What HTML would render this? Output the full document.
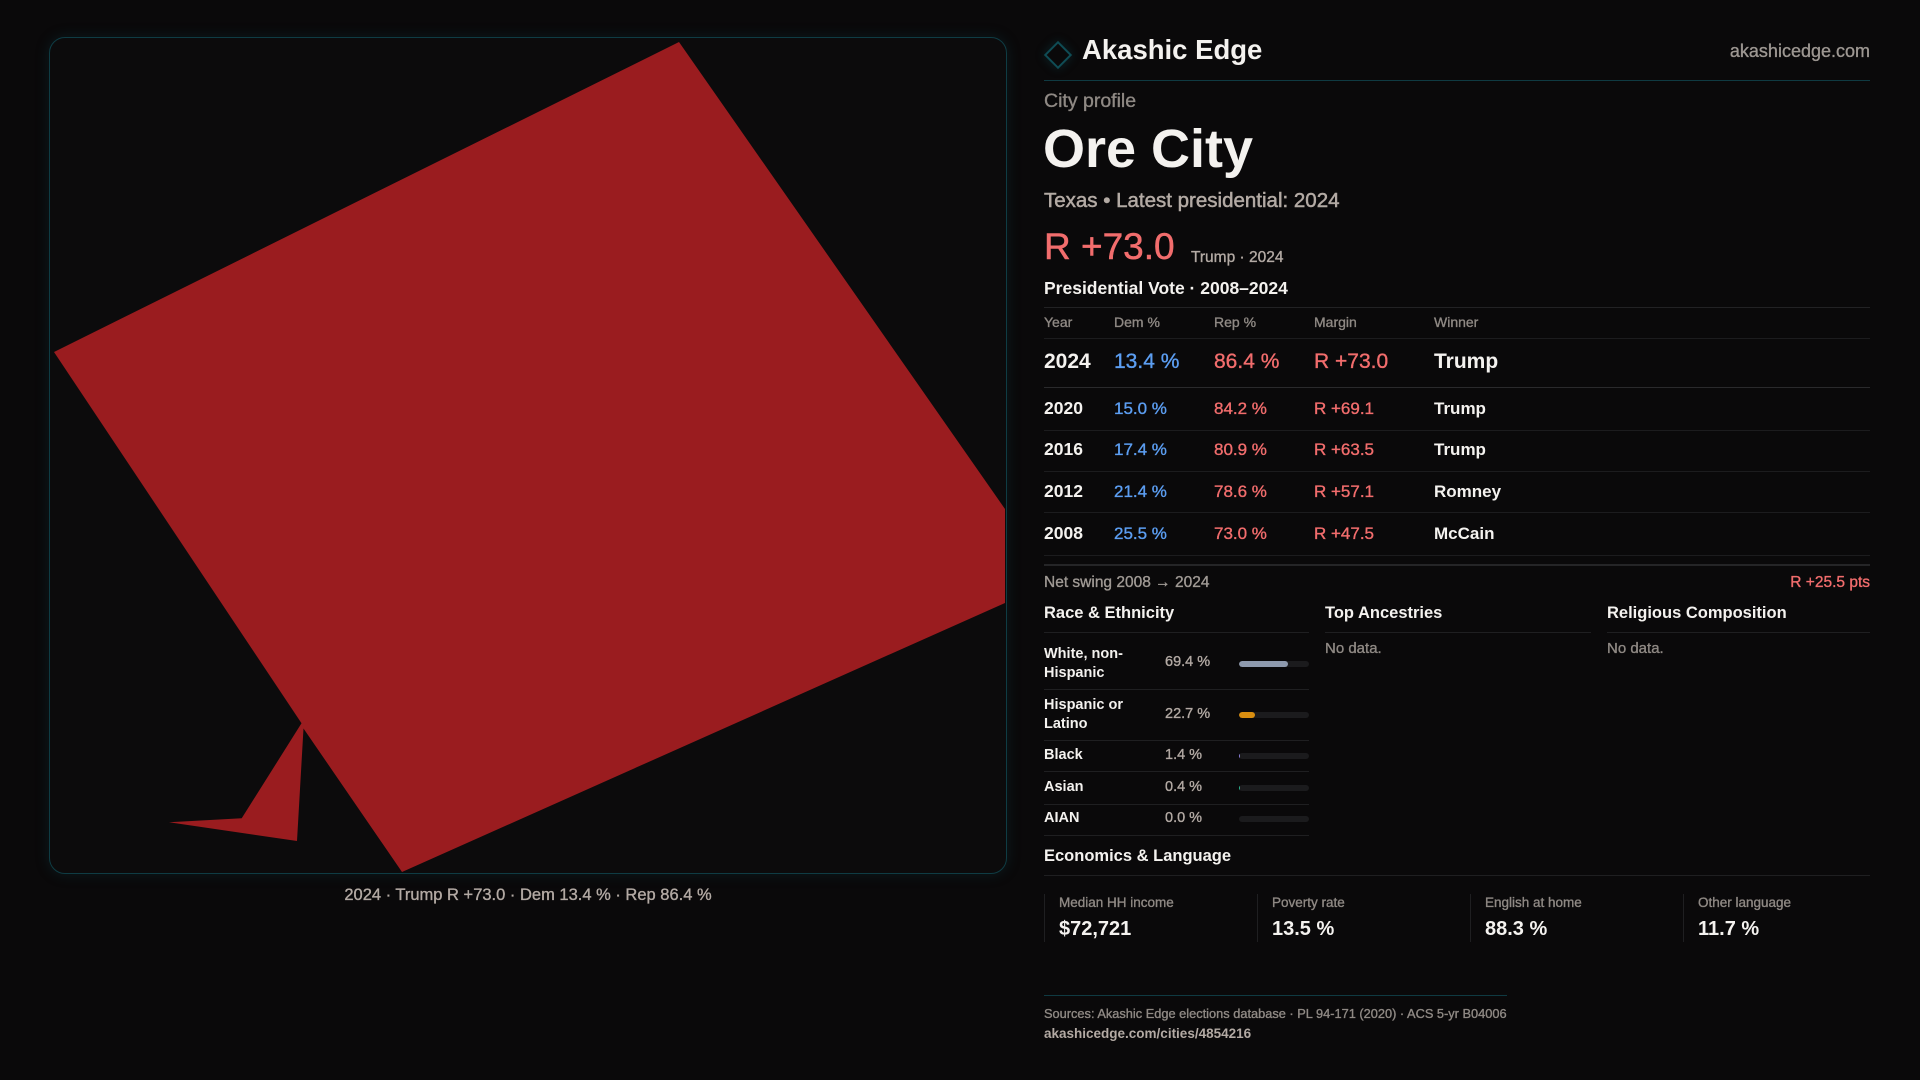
<!DOCTYPE html>
<html>
<head>
<meta charset="utf-8">
<style>
  html,body{margin:0;padding:0;}
  body{width:1920px;height:1080px;background:#0a090a;overflow:hidden;position:relative;font-family:"Liberation Sans",sans-serif;}
  .t{position:absolute;white-space:nowrap;line-height:1;}
  .b{font-weight:bold;}
  .m{-webkit-text-stroke:0.35px currentColor;}
  .m2{-webkit-text-stroke:0.5px currentColor;}
  .w{color:#f4f2ef;}
  .g{color:#8f8984;}
  .g2{color:#b3aaa4;}
  .red{color:#f26d6d;}
  .blue{color:#5c9ef2;}
  .hl{position:absolute;height:1px;}
  .vl{position:absolute;width:1px;background:#1f1f21;}
  .track{position:absolute;left:1239px;width:70px;height:6px;border-radius:3px;background:#1b1b1d;overflow:hidden;}
  .fill{position:absolute;left:0;top:0;height:6px;border-radius:3px;}
</style>
</head>
<body>

<!-- Map panel -->
<div style="position:absolute;left:49px;top:37px;width:956px;height:835px;border:1px solid #0f3c44;border-radius:16px;background:#0c0b0c;box-shadow:0 0 14px rgba(16,80,90,0.25);"></div>
<svg style="position:absolute;left:0;top:0;" width="1920" height="1080" viewBox="0 0 1920 1080">
  <polygon fill="#9a1c1f" points="679,42 1005,509 1005,603 402,872 303.5,728.5 297,841 169,822.3 241.7,818.3 301.5,723.3 54,352"/>
</svg>
<div class="t g2 m" style="left:0;width:1056px;text-align:center;top:887px;font-size:16.5px;">2024 · Trump R +73.0 · Dem 13.4 % · Rep 86.4 %</div>

<!-- Header -->
<div style="position:absolute;left:1048px;top:45px;width:20px;height:20px;box-sizing:border-box;border:2px solid #0f4c55;transform:rotate(45deg);box-shadow:0 0 10px rgba(15,90,100,0.35);"></div>
<div class="t b w" style="left:1082px;top:36px;font-size:27.5px;">Akashic Edge</div>
<div class="t m" style="right:50px;top:42px;font-size:18px;color:#9d9792;">akashicedge.com</div>
<div class="hl" style="left:1044px;top:80px;width:826px;background:#0f3a42;"></div>

<div class="t g m" style="left:1044px;top:92px;font-size:19.5px;">City profile</div>
<div class="t b w" style="left:1043px;top:122px;font-size:54px;">Ore City</div>
<div class="t g2 m2" style="left:1044px;top:191px;font-size:20.5px;">Texas • Latest presidential: 2024</div>
<div class="t red m2" style="left:1044px;top:228px;font-size:37px;">R +73.0</div>
<div class="t g2 m" style="left:1191px;top:250px;font-size:15.5px;">Trump · 2024</div>
<div class="t b w" style="left:1044px;top:280px;font-size:17.5px;">Presidential Vote · 2008–2024</div>

<!-- Table -->
<div class="hl" style="left:1044px;top:307px;width:826px;background:#222224;"></div>
<div class="t g m" style="left:1044px;top:315px;font-size:14px;">Year</div>
<div class="t g m" style="left:1114px;top:315px;font-size:14px;">Dem %</div>
<div class="t g m" style="left:1214px;top:315px;font-size:14px;">Rep %</div>
<div class="t g m" style="left:1314px;top:315px;font-size:14px;">Margin</div>
<div class="t g m" style="left:1434px;top:315px;font-size:14px;">Winner</div>
<div class="hl" style="left:1044px;top:338px;width:826px;background:#1c1c1e;"></div>

<div class="t b w" style="left:1044px;top:351px;font-size:21px;">2024</div>
<div class="t blue m" style="left:1114px;top:351px;font-size:21px;">13.4 %</div>
<div class="t red m" style="left:1214px;top:351px;font-size:21px;">86.4 %</div>
<div class="t red m" style="left:1314px;top:351px;font-size:21px;">R +73.0</div>
<div class="t b w" style="left:1434px;top:351px;font-size:21px;">Trump</div>
<div class="hl" style="left:1044px;top:387px;width:826px;background:#2a2a2c;"></div>

<div class="t b w" style="left:1044px;top:400px;font-size:17.5px;">2020</div>
<div class="t blue m" style="left:1114px;top:400px;font-size:17px;">15.0 %</div>
<div class="t red m" style="left:1214px;top:400px;font-size:17px;">84.2 %</div>
<div class="t red m" style="left:1314px;top:400px;font-size:17px;">R +69.1</div>
<div class="t b w" style="left:1434px;top:400px;font-size:17px;">Trump</div>
<div class="hl" style="left:1044px;top:430px;width:826px;background:#1c1c1e;"></div>

<div class="t b w" style="left:1044px;top:441px;font-size:17.5px;">2016</div>
<div class="t blue m" style="left:1114px;top:441px;font-size:17px;">17.4 %</div>
<div class="t red m" style="left:1214px;top:441px;font-size:17px;">80.9 %</div>
<div class="t red m" style="left:1314px;top:441px;font-size:17px;">R +63.5</div>
<div class="t b w" style="left:1434px;top:441px;font-size:17px;">Trump</div>
<div class="hl" style="left:1044px;top:471px;width:826px;background:#1c1c1e;"></div>

<div class="t b w" style="left:1044px;top:483px;font-size:17.5px;">2012</div>
<div class="t blue m" style="left:1114px;top:483px;font-size:17px;">21.4 %</div>
<div class="t red m" style="left:1214px;top:483px;font-size:17px;">78.6 %</div>
<div class="t red m" style="left:1314px;top:483px;font-size:17px;">R +57.1</div>
<div class="t b w" style="left:1434px;top:483px;font-size:17px;">Romney</div>
<div class="hl" style="left:1044px;top:512px;width:826px;background:#1c1c1e;"></div>

<div class="t b w" style="left:1044px;top:525px;font-size:17.5px;">2008</div>
<div class="t blue m" style="left:1114px;top:525px;font-size:17px;">25.5 %</div>
<div class="t red m" style="left:1214px;top:525px;font-size:17px;">73.0 %</div>
<div class="t red m" style="left:1314px;top:525px;font-size:17px;">R +47.5</div>
<div class="t b w" style="left:1434px;top:525px;font-size:17px;">McCain</div>
<div class="hl" style="left:1044px;top:555px;width:826px;background:#1c1c1e;"></div>
<div class="hl" style="left:1044px;top:564px;width:826px;height:2px;background:#252527;"></div>

<div class="t m" style="left:1044px;top:575px;font-size:15.5px;color:#a09a95;">Net swing 2008 → 2024</div>
<div class="t red m" style="right:50px;top:575px;font-size:15.5px;">R +25.5 pts</div>

<!-- Three columns -->
<div class="t b w" style="left:1044px;top:605px;font-size:16.5px;">Race &amp; Ethnicity</div>
<div class="t b w" style="left:1325px;top:605px;font-size:16.5px;">Top Ancestries</div>
<div class="t b w" style="left:1607px;top:605px;font-size:16.5px;">Religious Composition</div>
<div class="hl" style="left:1044px;top:632px;width:265px;background:#1f1f21;"></div>
<div class="hl" style="left:1325px;top:632px;width:266px;background:#1f1f21;"></div>
<div class="hl" style="left:1607px;top:632px;width:263px;background:#1f1f21;"></div>
<div class="t g m" style="left:1325px;top:641px;font-size:15px;">No data.</div>
<div class="t g m" style="left:1607px;top:641px;font-size:15px;">No data.</div>

<!-- Race rows -->
<div class="t b w" style="left:1044px;top:645px;font-size:14.5px;line-height:19px;">White, non-<br>Hispanic</div>
<div class="t g2 m" style="left:1165px;top:655px;font-size:14.5px;">69.4 %</div>
<div class="track" style="top:661px;"><div class="fill" style="width:49px;background:#8e9aae;"></div></div>
<div class="hl" style="left:1044px;top:689px;width:265px;background:#1f1f21;"></div>

<div class="t b w" style="left:1044px;top:696px;font-size:14.5px;line-height:19px;">Hispanic or<br>Latino</div>
<div class="t g2 m" style="left:1165px;top:707px;font-size:14.5px;">22.7 %</div>
<div class="track" style="top:712px;"><div class="fill" style="width:16px;background:#d98e10;"></div></div>
<div class="hl" style="left:1044px;top:740px;width:265px;background:#1f1f21;"></div>

<div class="t b w" style="left:1044px;top:748px;font-size:14.5px;">Black</div>
<div class="t g2 m" style="left:1165px;top:748px;font-size:14.5px;">1.4 %</div>
<div class="track" style="top:753px;"><div class="fill" style="width:1px;background:#8b7fd8;"></div></div>
<div class="hl" style="left:1044px;top:771px;width:265px;background:#1f1f21;"></div>

<div class="t b w" style="left:1044px;top:780px;font-size:14.5px;">Asian</div>
<div class="t g2 m" style="left:1165px;top:780px;font-size:14.5px;">0.4 %</div>
<div class="track" style="top:785px;"><div class="fill" style="width:1px;background:#2bb58f;"></div></div>
<div class="hl" style="left:1044px;top:804px;width:265px;background:#1f1f21;"></div>

<div class="t b w" style="left:1044px;top:811px;font-size:14.5px;">AIAN</div>
<div class="t g2 m" style="left:1165px;top:811px;font-size:14.5px;">0.0 %</div>
<div class="track" style="top:816px;"></div>
<div class="hl" style="left:1044px;top:835px;width:265px;background:#1f1f21;"></div>

<!-- Economics -->
<div class="t b w" style="left:1044px;top:848px;font-size:16.5px;">Economics &amp; Language</div>
<div class="hl" style="left:1044px;top:875px;width:826px;background:#1f1f21;"></div>

<div class="vl" style="left:1044px;top:894px;height:48px;"></div>
<div class="vl" style="left:1257px;top:894px;height:48px;"></div>
<div class="vl" style="left:1470px;top:894px;height:48px;"></div>
<div class="vl" style="left:1683px;top:894px;height:48px;"></div>

<div class="t g m" style="left:1059px;top:896px;font-size:13.5px;">Median HH income</div>
<div class="t g m" style="left:1272px;top:896px;font-size:13.5px;">Poverty rate</div>
<div class="t g m" style="left:1485px;top:896px;font-size:13.5px;">English at home</div>
<div class="t g m" style="left:1698px;top:896px;font-size:13.5px;">Other language</div>

<div class="t b w" style="left:1059px;top:919px;font-size:20px;">$72,721</div>
<div class="t b w" style="left:1272px;top:919px;font-size:20px;">13.5 %</div>
<div class="t b w" style="left:1485px;top:919px;font-size:20px;">88.3 %</div>
<div class="t b w" style="left:1698px;top:919px;font-size:20px;">11.7 %</div>

<!-- Footer -->
<div class="hl" style="left:1044px;top:995px;width:463px;background:#0f3a42;"></div>
<div class="t g m" style="left:1044px;top:1008px;font-size:12.8px;">Sources: Akashic Edge elections database · PL 94-171 (2020) · ACS 5-yr B04006</div>
<div class="t b g2" style="left:1044px;top:1027px;font-size:13.5px;">akashicedge.com/cities/4854216</div>

</body>
</html>
